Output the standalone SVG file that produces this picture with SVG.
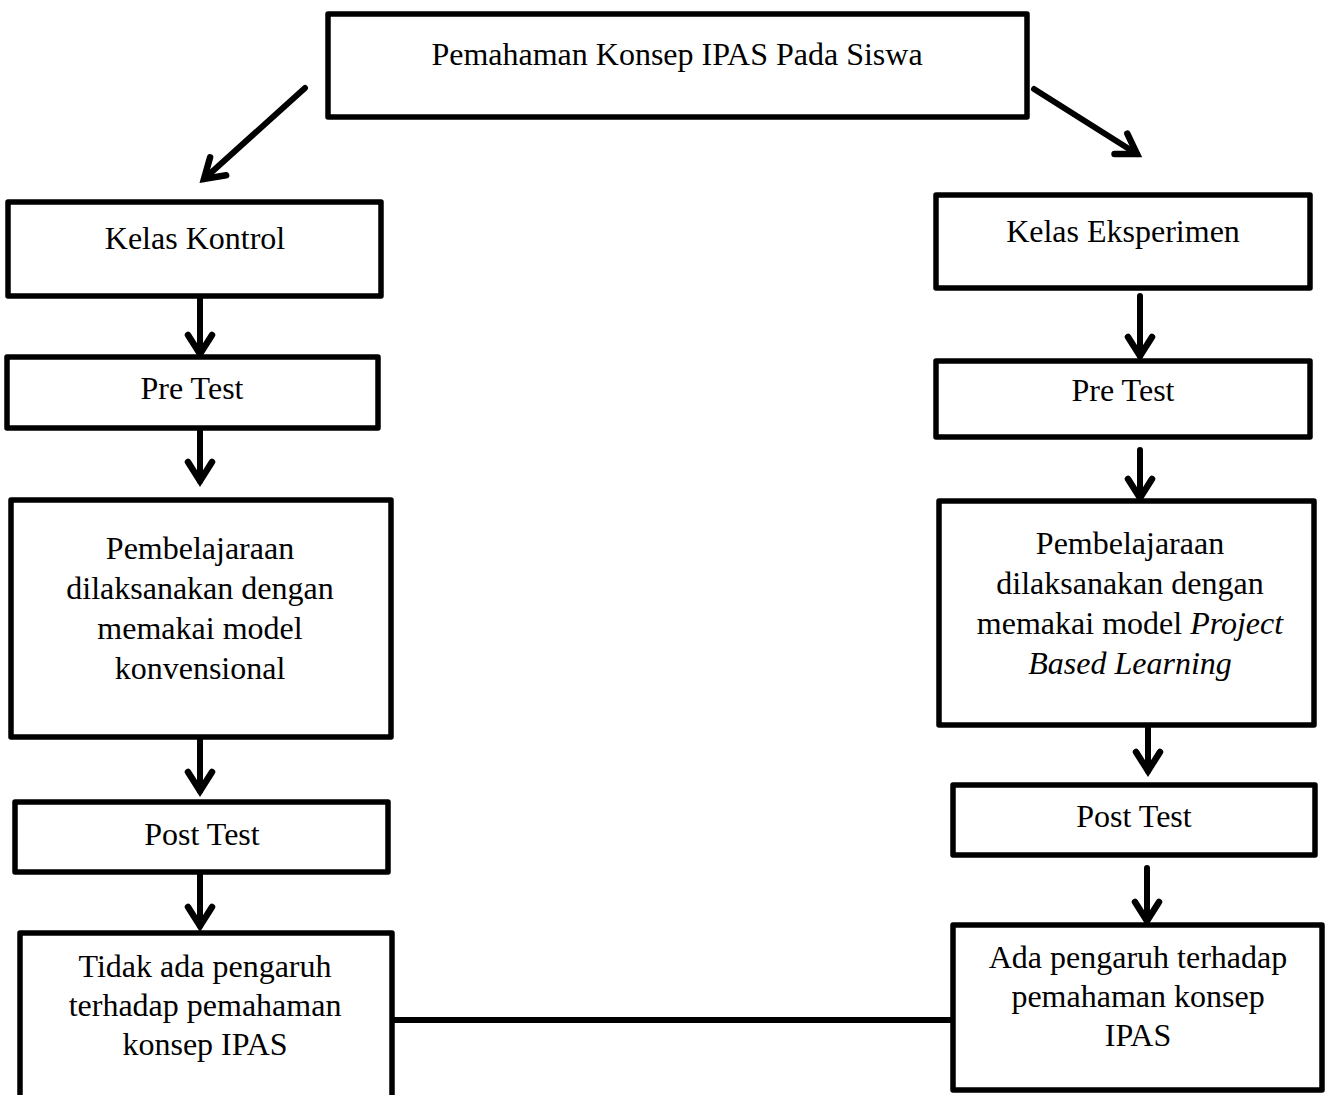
<svg xmlns="http://www.w3.org/2000/svg" width="1331" height="1095" viewBox="0 0 1331 1095">
<style>
.box{fill:#fff;stroke:#000;stroke-width:5.5;stroke-linejoin:round}
.t{font-family:"Liberation Serif","Times New Roman",serif;font-size:32px;fill:#000;text-anchor:middle}
.c{fill:none;stroke:#000;stroke-width:6;stroke-linecap:round}
.i{font-style:italic}
</style>
<defs>
<marker id="ah" markerUnits="userSpaceOnUse" viewBox="-26 -16 30 32" markerWidth="30" markerHeight="32" refX="0" refY="0" orient="auto" overflow="visible">
<path d="M-19,-12 L0,0 L-19,12" fill="none" stroke="#000" stroke-width="6.5" stroke-linecap="round" stroke-linejoin="miter"/>
</marker>
</defs>
<g id="connectors">
<line class="c" x1="305" y1="88" x2="204" y2="179" marker-end="url(#ah)"/>
<line class="c" x1="1034" y1="89" x2="1137" y2="154" marker-end="url(#ah)"/>
<line class="c" x1="200" y1="298" x2="200" y2="354" marker-end="url(#ah)"/>
<line class="c" x1="200" y1="431" x2="200" y2="481" marker-end="url(#ah)"/>
<line class="c" x1="200" y1="740" x2="200" y2="791" marker-end="url(#ah)"/>
<line class="c" x1="200" y1="874" x2="200" y2="926" marker-end="url(#ah)"/>
<line class="c" x1="1140" y1="296" x2="1140" y2="356" marker-end="url(#ah)"/>
<line class="c" x1="1140" y1="450" x2="1140" y2="498" marker-end="url(#ah)"/>
<line class="c" x1="1148" y1="728" x2="1148" y2="771" marker-end="url(#ah)"/>
<line class="c" x1="1147" y1="868" x2="1147" y2="921" marker-end="url(#ah)"/>
<line class="c" x1="392" y1="1020" x2="953" y2="1020" style="stroke-linecap:butt"/>
</g>
<g id="top">
<rect class="box" x="328" y="14" width="699" height="103"/>
<text class="t" x="677" y="65">Pemahaman Konsep IPAS Pada Siswa</text>
</g>
<g id="kelas-kontrol">
<rect class="box" x="8" y="202" width="373" height="94"/>
<text class="t" x="195" y="249">Kelas Kontrol</text>
</g>
<g id="pre-test-kontrol">
<rect class="box" x="7" y="357" width="371" height="71"/>
<text class="t" x="192" y="399">Pre Test</text>
</g>
<g id="pembelajaran-kontrol">
<rect class="box" x="11" y="500" width="380" height="237"/>
<text class="t" x="200" y="559">Pembelajaraan</text>
<text class="t" x="200" y="599">dilaksanakan dengan</text>
<text class="t" x="200" y="639">memakai model</text>
<text class="t" x="200" y="679">konvensional</text>
</g>
<g id="post-test-kontrol">
<rect class="box" x="15" y="802" width="373" height="70"/>
<text class="t" x="202" y="845">Post Test</text>
</g>
<g id="hasil-kontrol">
<rect class="box" x="20" y="933" width="372" height="180"/>
<text class="t" x="205" y="977">Tidak ada pengaruh</text>
<text class="t" x="205" y="1016">terhadap pemahaman</text>
<text class="t" x="205" y="1055">konsep IPAS</text>
</g>
<g id="kelas-eksperimen">
<rect class="box" x="936" y="195" width="374" height="93"/>
<text class="t" x="1123" y="242">Kelas Eksperimen</text>
</g>
<g id="pre-test-eksperimen">
<rect class="box" x="936" y="361" width="374" height="76"/>
<text class="t" x="1123" y="401">Pre Test</text>
</g>
<g id="pembelajaran-eksperimen">
<rect class="box" x="939" y="501" width="375" height="224"/>
<text class="t" x="1130" y="554">Pembelajaraan</text>
<text class="t" x="1130" y="594">dilaksanakan dengan</text>
<text class="t" x="1130" y="634">memakai model <tspan class="i">Project</tspan></text>
<text class="t" x="1130" y="674"><tspan class="i">Based Learning</tspan></text>
</g>
<g id="post-test-eksperimen">
<rect class="box" x="953" y="785" width="362" height="70"/>
<text class="t" x="1134" y="827">Post Test</text>
</g>
<g id="hasil-eksperimen">
<rect class="box" x="953" y="925" width="369" height="165"/>
<text class="t" x="1138" y="968">Ada pengaruh terhadap</text>
<text class="t" x="1138" y="1007">pemahaman konsep</text>
<text class="t" x="1138" y="1046">IPAS</text>
</g>
</svg>
